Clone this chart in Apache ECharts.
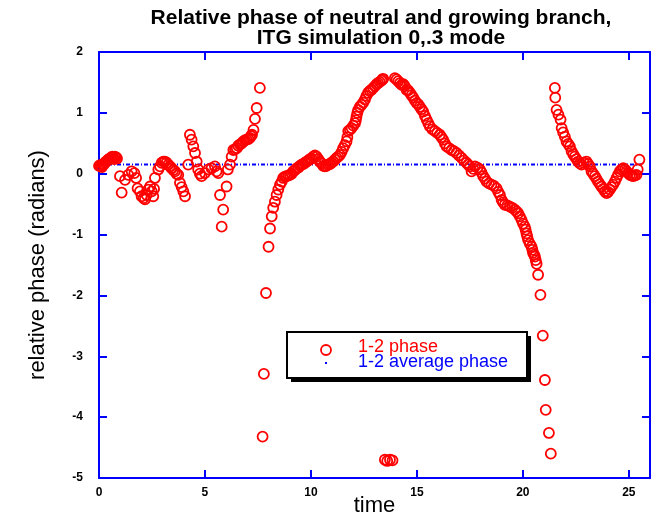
<!DOCTYPE html>
<html>
<head>
<meta charset="utf-8">
<script src="https://cdn.jsdelivr.net/npm/echarts@6/dist/echarts.min.js"></script>
<style>
html,body{margin:0;padding:0;background:#fff;}
#chart{width:657px;height:520px;}
</style>
</head>
<body>
<div id="chart"></div>
<script>
// ---- data ----
var titleLines = ['Relative phase of neutral and growing branch,', 'ITG simulation 0,.3 mode'];
var xName = 'time';
var yName = 'relative phase (radians)';
var seriesNames = ['1-2 phase', '1-2 average phase'];
var xTicks = [0, 5, 10, 15, 20, 25];
var yTicks = [-5, -4, -3, -2, -1, 0, 1, 2];

var phaseTime = [
  0.00, 0.05, 0.09, 0.14, 0.19, 0.24, 0.28, 0.33, 0.38, 0.43,
  0.47, 0.52, 0.57, 0.62, 0.66, 0.71, 0.75, 0.80, 0.85, 0.99,
  1.07, 1.23, 1.38, 1.54, 1.67, 1.75, 1.82, 1.93, 2.01, 2.10,
  2.17, 2.25, 2.33, 2.41, 2.49, 2.56, 2.60, 2.64, 2.80, 2.88,
  2.96, 3.04, 3.11, 3.19, 3.27, 3.35, 3.43, 3.51, 3.58, 3.66,
  3.74, 3.82, 3.90, 3.98, 4.06, 4.21, 4.29, 4.37, 4.45, 4.53,
  4.61, 4.68, 4.76, 4.84, 5.00, 5.16, 5.31, 5.47, 5.55, 5.63,
  5.71, 5.79, 5.86, 6.02, 6.08, 6.18, 6.26, 6.34, 6.42, 6.50,
  6.57, 6.65, 6.73, 6.81, 6.89, 6.97, 7.05, 7.12, 7.17, 7.22,
  7.29, 7.36, 7.44, 7.59, 7.72, 7.78, 7.88, 8.00, 8.07, 8.15,
  8.22, 8.30, 8.38, 8.46, 8.54, 8.62, 8.69, 8.77, 8.85, 8.93,
  9.01, 9.09, 9.17, 9.25, 9.33, 9.41, 9.48, 9.56, 9.64, 9.72,
  9.80, 9.88, 9.95, 10.03, 10.11, 10.19, 10.27, 10.35, 10.42, 10.50,
  10.58, 10.66, 10.74, 10.82, 10.90, 10.97, 11.05, 11.13, 11.21, 11.29,
  11.37, 11.45, 11.52, 11.60, 11.68, 11.72, 11.76, 11.84, 11.92, 12.00,
  12.08, 12.12, 12.15, 12.19, 12.23, 12.31, 12.39, 12.47, 12.55, 12.62,
  12.70, 12.78, 12.86, 12.94, 13.02, 13.10, 13.17, 13.25, 13.33, 13.37,
  13.41, 13.49, 13.60, 13.73, 13.85, 13.96, 14.04, 14.12, 14.20, 14.28,
  14.36, 14.43, 14.51, 14.59, 14.67, 14.75, 14.83, 14.91, 14.99, 15.07,
  15.14, 15.22, 15.30, 15.38, 15.46, 15.54, 15.61, 15.73, 15.85, 15.96,
  16.08, 16.16, 16.24, 16.32, 16.40, 16.52, 16.64, 16.75, 16.87, 16.99,
  17.11, 17.22, 17.34, 17.42, 17.50, 17.58, 17.66, 17.74, 17.86, 17.97,
  18.05, 18.13, 18.21, 18.29, 18.40, 18.52, 18.64, 18.76, 18.84, 18.92,
  19.00, 19.07, 19.15, 19.27, 19.39, 19.50, 19.62, 19.70, 19.78, 19.86,
  19.94, 20.01, 20.09, 20.13, 20.17, 20.21, 20.25, 20.33, 20.41, 20.45,
  20.48, 20.53, 20.57, 20.61, 20.65, 20.72, 20.83, 20.94, 21.04, 21.08,
  21.23, 21.32, 21.51, 21.53, 21.59, 21.68, 21.78, 21.83, 21.90, 21.98,
  22.06, 22.14, 22.22, 22.30, 22.38, 22.45, 22.53, 22.61, 22.69, 22.77,
  22.88, 23.00, 23.08, 23.16, 23.24, 23.32, 23.40, 23.47, 23.55, 23.63,
  23.71, 23.79, 23.87, 23.95, 24.02, 24.10, 24.18, 24.26, 24.34, 24.42,
  24.50, 24.58, 24.66, 24.74, 24.82, 24.89, 24.97, 25.05, 25.13, 25.20,
  25.28, 25.36, 25.42, 25.50
];
var phaseValue = [
  0.13, 0.14, 0.12, 0.11, 0.15, 0.16, 0.18, 0.20, 0.21, 0.23,
  0.24, 0.25, 0.26, 0.28, 0.27, 0.24, 0.28, 0.27, 0.25, -0.04,
  -0.31, -0.10, -0.02, 0.04, 0.01, -0.07, -0.24, -0.29, -0.37, -0.40,
  -0.42, -0.35, -0.26, -0.21, -0.29, -0.37, -0.25, -0.07, 0.07, 0.12,
  0.18, 0.20, 0.20, 0.18, 0.15, 0.12, 0.09, 0.06, 0.04, 0.00,
  -0.02, -0.15, -0.22, -0.29, -0.37, 0.15, 0.64, 0.56, 0.45, 0.34,
  0.20, 0.07, 0.00, -0.04, 0.01, 0.07, 0.09, 0.12, 0.04, 0.01,
  -0.35, -0.87, -0.59, -0.21, 0.07, 0.15, 0.28, 0.39, 0.40, 0.42,
  0.46, 0.48, 0.50, 0.53, 0.55, 0.56, 0.57, 0.59, 0.62, 0.64,
  0.72, 0.90, 1.08, 1.41, -4.32, -3.29, -1.96, -1.20, -0.90, -0.70,
  -0.56, -0.46, -0.35, -0.26, -0.18, -0.13, -0.07, -0.05, -0.04, -0.03,
  -0.02, 0.00, 0.04, 0.06, 0.09, 0.10, 0.13, 0.15, 0.16, 0.18,
  0.20, 0.22, 0.24, 0.25, 0.28, 0.30, 0.28, 0.24, 0.20, 0.17,
  0.13, 0.12, 0.13, 0.15, 0.16, 0.18, 0.20, 0.23, 0.26, 0.28,
  0.31, 0.36, 0.42, 0.47, 0.53, 0.60, 0.70, 0.72, 0.75, 0.79,
  0.83, 0.88, 0.94, 1.00, 1.05, 1.10, 1.13, 1.17, 1.22, 1.28,
  1.33, 1.36, 1.38, 1.41, 1.44, 1.47, 1.49, 1.51, 1.53, 1.55,
  1.56, -4.70, -4.72, -4.70, -4.71, 1.57, 1.55, 1.52, 1.49, 1.46,
  1.47, 1.44, 1.38, 1.37, 1.33, 1.29, 1.25, 1.20, 1.16, 1.14,
  1.10, 1.06, 1.02, 0.95, 0.89, 0.83, 0.78, 0.73, 0.70, 0.67,
  0.64, 0.60, 0.56, 0.50, 0.45, 0.42, 0.39, 0.37, 0.34, 0.30,
  0.26, 0.22, 0.18, 0.15, 0.12, 0.04, 0.08, 0.12, 0.10, 0.07,
  0.02, -0.04, -0.08, -0.13, -0.16, -0.18, -0.20, -0.24, -0.30, -0.35,
  -0.43, -0.47, -0.51, -0.52, -0.54, -0.56, -0.59, -0.62, -0.65, -0.70,
  -0.76, -0.82, -0.87, -0.92, -0.98, -1.03, -1.09, -1.15, -1.20, -1.25,
  -1.30, -1.33, -1.36, -1.42, -1.48, -1.66, -1.99, -2.66, -3.39, -3.88,
  -4.26, -4.60, 1.41, 1.25, 1.05, 0.97, 0.89, 0.75, 0.68, 0.61,
  0.53, 0.49, 0.45, 0.37, 0.32, 0.28, 0.24, 0.20, 0.17, 0.15,
  0.18, 0.20, 0.16, 0.12, 0.04, 0.00, -0.04, -0.08, -0.13, -0.17,
  -0.21, -0.25, -0.29, -0.32, -0.30, -0.26, -0.22, -0.18, -0.13, -0.07,
  -0.01, 0.04, 0.07, 0.09, 0.07, 0.04, 0.01, -0.02, -0.03, -0.04,
  -0.03, -0.02, 0.07, 0.23
];
var averageTime = [0, 25.6];
var averageValue = [0.15, 0.15];

// ---- chart ----
var chart = echarts.init(document.getElementById('chart'), null, {renderer: 'canvas'});
var phasePoints = phaseTime.map(function (t, i) { return [t, phaseValue[i]]; });
var avgPoints = averageTime.map(function (t, i) { return [t, averageValue[i]]; });

var BLUE = '#0000ff';
var RED = '#ff0000';
var fontFam = '"Liberation Sans", Arial, Helvetica, sans-serif';

function xLab(v) { return xTicks.indexOf(v) >= 0 ? String(v) : ''; }
function yLab(v) { return yTicks.indexOf(v) >= 0 ? String(v) : ''; }

var axisCommonX = {
  type: 'value', min: 0, max: 26, interval: 5,
  axisLine: {show: true, onZero: false, lineStyle: {color: BLUE, width: 2}},
  axisTick: {show: true, inside: true, length: 8, lineStyle: {color: BLUE, width: 2}},
  splitLine: {show: false}
};
var axisCommonY = {
  type: 'value', min: -5, max: 2, interval: 1,
  axisLine: {show: true, onZero: false, lineStyle: {color: BLUE, width: 2}},
  axisTick: {show: true, inside: true, length: 8, lineStyle: {color: BLUE, width: 2}},
  splitLine: {show: false}
};

var option = {
  backgroundColor: '#ffffff',
  animation: false,
  title: {
    text: titleLines.join('\n'),
    left: 376, top: 3, textAlign: 'center',
    textStyle: {fontFamily: fontFam, fontWeight: 'bold', fontSize: 21, color: '#000', lineHeight: 20}
  },
  grid: {left: 99, right: 7, top: 52, bottom: 42, containLabel: false, outerBoundsMode: 'none'},
  xAxis: [
    Object.assign({}, axisCommonX, {
      position: 'bottom',
      name: xName, nameLocation: 'middle', nameGap: 17, nameMoveOverlap: false,
      nameTextStyle: {fontFamily: fontFam, fontSize: 22, color: '#000', verticalAlign: 'top'},
      axisLabel: {show: true, margin: 9, formatter: xLab,
        fontFamily: fontFam, fontWeight: 'bold', fontSize: 12, color: '#000'}
    }),
    Object.assign({}, axisCommonX, {position: 'top', axisLabel: {show: false}})
  ],
  yAxis: [
    Object.assign({}, axisCommonY, {
      position: 'left',
      name: yName, nameLocation: 'middle', nameGap: 50, nameRotate: 90, nameMoveOverlap: false,
      nameTextStyle: {fontFamily: fontFam, fontSize: 22, color: '#000'},
      axisLabel: {show: true, margin: 16, formatter: yLab,
        fontFamily: fontFam, fontWeight: 'bold', fontSize: 12, color: '#000'}
    }),
    Object.assign({}, axisCommonY, {position: 'right', axisLabel: {show: false}})
  ],
  series: [
    {
      name: seriesNames[1], type: 'line', xAxisIndex: 0, yAxisIndex: 0,
      data: avgPoints, showSymbol: false, symbol: 'none',
      lineStyle: {color: BLUE, width: 2, type: [4, 2, 1, 2]},
      z: 2
    },
    {
      name: seriesNames[0], type: 'scatter', xAxisIndex: 0, yAxisIndex: 0,
      data: phasePoints, symbol: 'circle', symbolSize: 10,
      itemStyle: {color: 'rgba(0,0,0,0)', borderColor: RED, borderWidth: 1.8, opacity: 1},
      z: 3
    }
  ],
  graphic: [
    {type: 'rect', shape: {x: 291, y: 336, width: 240, height: 46}, style: {fill: '#000'}, z: 10},
    {type: 'rect', shape: {x: 287, y: 332, width: 240, height: 46}, style: {fill: '#fff', stroke: '#000', lineWidth: 2}, z: 11},
    {type: 'circle', shape: {cx: 326, cy: 350, r: 5}, style: {fill: 'none', stroke: RED, lineWidth: 1.8}, z: 12},
    {type: 'rect', shape: {x: 325, y: 362, width: 2, height: 2}, style: {fill: BLUE}, z: 12},
    {type: 'text', left: 358, top: 338, style: {text: seriesNames[0], fill: RED, font: '18px ' + fontFam}, z: 12},
    {type: 'text', left: 358, top: 353, style: {text: seriesNames[1], fill: BLUE, font: '18px ' + fontFam}, z: 13}
  ]
};
chart.setOption(option);
</script>
</body>
</html>
